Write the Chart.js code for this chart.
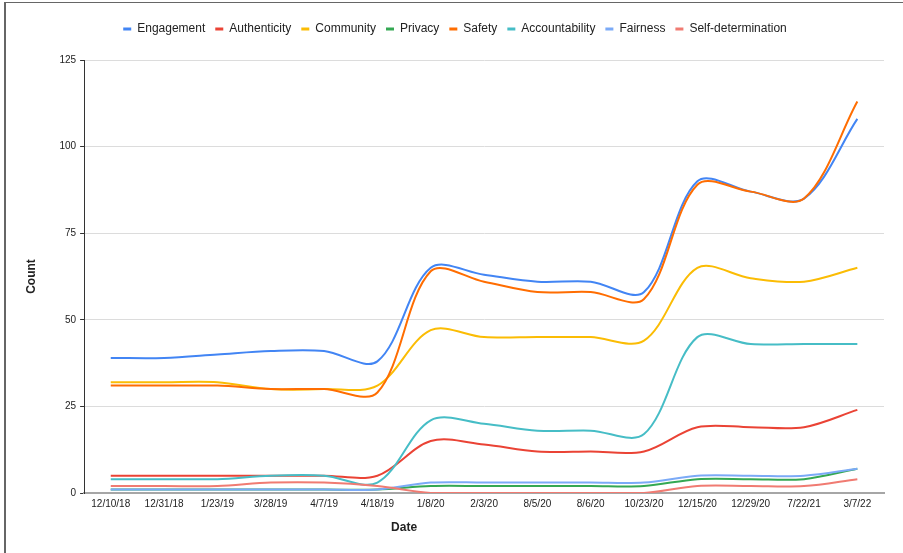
<!DOCTYPE html>
<html>
<head>
<meta charset="utf-8">
<script src="https://cdn.jsdelivr.net/npm/chart.js@4.4.1/dist/chart.umd.min.js"></script>
<style>
  html, body { margin: 0; padding: 0; background: #fff; }
  #wrap { position: relative; width: 903px; height: 553px; overflow: hidden; }
  #frame { position: absolute; left: 4px; top: 2px; width: 900px; height: 600px;
           border-top: 1px solid #666; border-left: 2px solid #666; pointer-events: none; }
  canvas { position: absolute; left: 0; top: 0; }
</style>
</head>
<body>
<div id="wrap">
  <canvas id="chart" width="903" height="553"></canvas>
  <div id="frame"></div>
</div>
<script>
// Mention counts per value theme, by date
const categories = ['12/10/18', '12/31/18', '1/23/19', '3/28/19', '4/7/19', '4/18/19', '1/8/20', '2/3/20',
                    '8/5/20', '8/6/20', '10/23/20', '12/15/20', '12/29/20', '7/22/21', '3/7/22'];
const engagement        = [39, 39, 40, 41, 41, 38, 65, 63, 61, 61, 58, 90, 87, 85, 108];
const authenticity      = [5, 5, 5, 5, 5, 5, 15, 14, 12, 12, 12, 19, 19, 19, 24];
const community         = [32, 32, 32, 30, 30, 31, 47, 45, 45, 45, 44, 65, 62, 61, 65];
const privacy           = [1, 1, 1, 1, 1, 1, 2, 2, 2, 2, 2, 4, 4, 4, 7];
const safety            = [31, 31, 31, 30, 30, 29, 64, 61, 58, 58, 56, 89, 87, 85, 113];
const accountability    = [4, 4, 4, 5, 5, 3, 21, 20, 18, 18, 17, 45, 43, 43, 43];
const fairness          = [1, 1, 1, 1, 1, 1, 3, 3, 3, 3, 3, 5, 5, 5, 7];
const selfDetermination = [2, 2, 2, 3, 3, 2, 0, 0, 0, 0, 0, 2, 2, 2, 4];
const yTicks = [0, 25, 50, 75, 100, 125];
const yAxisTitle = 'Count';
const xAxisTitle = 'Date';

const seriesNames  = ['Engagement', 'Authenticity', 'Community', 'Privacy', 'Safety', 'Accountability', 'Fairness', 'Self-determination'];
const seriesValues = [engagement, authenticity, community, privacy, safety, accountability, fairness, selfDetermination];
const seriesColors = ['#4285F4', '#EA4335', '#FBBC04', '#34A853', '#FF6D01', '#46BDC6', '#7BAAF7', '#F07B72'];

const FONT = '"Liberation Sans", Arial, Helvetica, sans-serif';
const TEXT = '#222';

const datasets = seriesNames.map((name, i) => ({
  label: name,
  data: seriesValues[i],
  borderColor: seriesColors[i],
  backgroundColor: seriesColors[i],
  borderWidth: 2,
  pointRadius: 0,
  pointHoverRadius: 0,
  tension: 0.33,
  fill: false,
  // later series paint over earlier ones
  order: seriesNames.length - i
}));

// Extra room under the legend, and nudge it right a little
const legendSpacing = {
  id: 'legendSpacing',
  beforeUpdate(chart) {
    const lg = chart.legend;
    if (lg && !lg._spaced) {
      const fit = lg.fit;
      lg.fit = function () { fit.call(this); this.height += 15; };
      lg._spaced = true;
    }
  },
  afterLayout(chart) {
    if (chart.legend) { chart.legend.left += 11; chart.legend.right += 11; }
  }
};

// Horizontal axis title, placed under the date labels
const xTitle = {
  id: 'xTitle',
  afterDraw(chart) {
    const { ctx, chartArea } = chart;
    ctx.save();
    ctx.font = 'bold 12px ' + FONT;
    ctx.fillStyle = TEXT;
    ctx.textAlign = 'center';
    ctx.textBaseline = 'middle';
    ctx.fillText(xAxisTitle, chartArea.left + (chartArea.right - chartArea.left) * 0.4, 528);
    ctx.restore();
  }
};

new Chart(document.getElementById('chart'), {
  type: 'line',
  data: { labels: categories, datasets },
  plugins: [legendSpacing, xTitle],
  options: {
    responsive: false,
    animation: false,
    events: [],
    layout: { padding: { top: 13, left: 4, right: 19, bottom: 38 } },
    plugins: {
      tooltip: { enabled: false },
      legend: {
        position: 'top',
        align: 'center',
        labels: {
          font: { family: FONT, size: 12 },
          color: TEXT,
          boxWidth: 8,
          boxHeight: 3,
          padding: 10,
          sort: (a, b) => a.datasetIndex - b.datasetIndex,
          generateLabels: (chart) =>
            Chart.defaults.plugins.legend.labels.generateLabels(chart).map(l => ({ ...l, lineWidth: 0 }))
        }
      }
    },
    scales: {
      x: {
        type: 'category',
        offset: true,
        z: 1,
        grid: { display: false, drawTicks: false },
        border: { display: true, color: '#a6a6a6', width: 2 },
        ticks: {
          autoSkip: false, maxRotation: 0, minRotation: 0, padding: 5,
          font: { family: FONT, size: 10 }, color: TEXT
        },
        title: { display: false }
      },
      y: {
        min: 0,
        max: 125,
        afterBuildTicks: (scale) => { scale.ticks = yTicks.map(v => ({ value: v })); },
        grid: { color: '#dcdcdc', lineWidth: 1, drawTicks: true, tickLength: 4, tickColor: '#333' },
        border: { display: true, color: '#333', width: 1 },
        ticks: { padding: 4, font: { family: FONT, size: 10 }, color: TEXT },
        title: {
          display: true,
          text: yAxisTitle,
          font: { family: FONT, size: 12, weight: 'bold' },
          color: TEXT,
          padding: { top: 20, bottom: 17 }
        }
      }
    }
  }
});
</script>
</body>
</html>
